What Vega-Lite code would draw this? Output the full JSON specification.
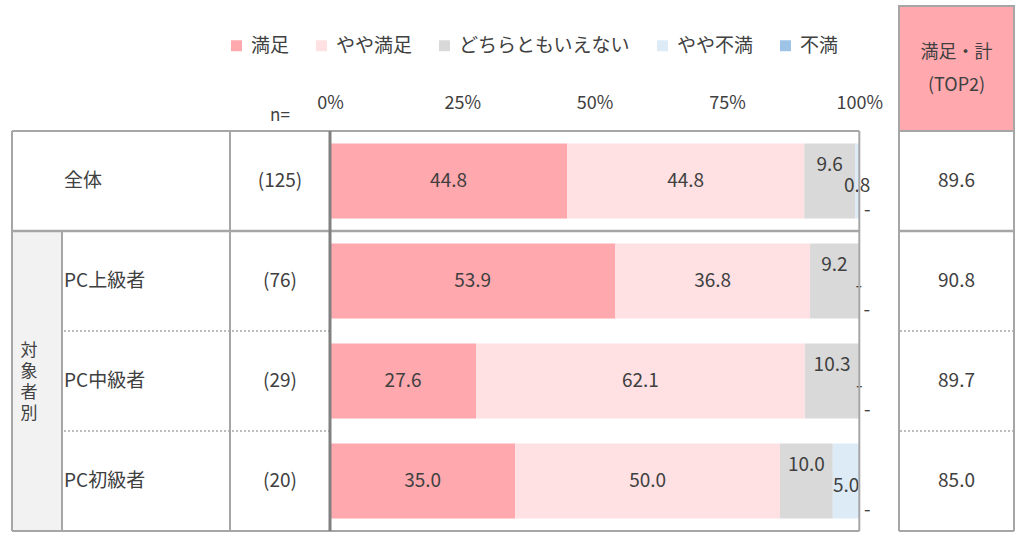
{
  "$schema": "https://vega.github.io/schema/vega-lite/v6.json",
  "padding": {"left": 10, "top": 5, "right": 10, "bottom": 5},
  "background": "white",
  "spacing": 0,
  "bounds": "flush",
  "columns": 5,
  "config": {
    "view": {"stroke": null},
    "font": "Noto Sans CJK JP",
    "text": {"font": "Noto Sans CJK JP", "color": "#404040", "fontSize": 17},
    "rule": {"color": "#A6A6A6", "strokeWidth": 2}
  },
  "datasets": {
    "rows": [
      {"row": "全体", "n": 125, "nLabel": "(125)", "top2": 89.6},
      {"row": "PC上級者", "n": 76, "nLabel": "(76)", "top2": 90.8},
      {"row": "PC中級者", "n": 29, "nLabel": "(29)", "top2": 89.7},
      {"row": "PC初級者", "n": 20, "nLabel": "(20)", "top2": 85.0}
    ],
    "bars": [
      {"row": "全体", "cat": "満足", "k": 1, "value": 44.8},
      {"row": "全体", "cat": "やや満足", "k": 2, "value": 44.8},
      {"row": "全体", "cat": "どちらともいえない", "k": 3, "value": 9.6},
      {"row": "全体", "cat": "やや不満", "k": 4, "value": 0.8},
      {"row": "全体", "cat": "不満", "k": 5, "value": 0},
      {"row": "PC上級者", "cat": "満足", "k": 1, "value": 53.9},
      {"row": "PC上級者", "cat": "やや満足", "k": 2, "value": 36.8},
      {"row": "PC上級者", "cat": "どちらともいえない", "k": 3, "value": 9.2},
      {"row": "PC上級者", "cat": "やや不満", "k": 4, "value": 0},
      {"row": "PC上級者", "cat": "不満", "k": 5, "value": 0},
      {"row": "PC中級者", "cat": "満足", "k": 1, "value": 27.6},
      {"row": "PC中級者", "cat": "やや満足", "k": 2, "value": 62.1},
      {"row": "PC中級者", "cat": "どちらともいえない", "k": 3, "value": 10.3},
      {"row": "PC中級者", "cat": "やや不満", "k": 4, "value": 0},
      {"row": "PC中級者", "cat": "不満", "k": 5, "value": 0},
      {"row": "PC初級者", "cat": "満足", "k": 1, "value": 35.0},
      {"row": "PC初級者", "cat": "やや満足", "k": 2, "value": 50.0},
      {"row": "PC初級者", "cat": "どちらともいえない", "k": 3, "value": 10.0},
      {"row": "PC初級者", "cat": "やや不満", "k": 4, "value": 5.0},
      {"row": "PC初級者", "cat": "不満", "k": 5, "value": 0}
    ]
  },
  "concat": [
    {"width": 50, "height": 125, "data": {"values": [{}]}, "mark": {"type": "text"}, "encoding": {"text": {"value": ""}}},
    {"width": 168, "height": 125, "data": {"values": [{}]}, "mark": {"type": "text"}, "encoding": {"text": {"value": ""}}},
    {"width": 100, "height": 125, "data": {"values": [{}]}, "mark": {"type": "text"}, "encoding": {"text": {"value": ""}}},
    {"width": 569, "height": 125, "data": {"values": [{}]}, "mark": {"type": "text"}, "encoding": {"text": {"value": ""}}},
    {
      "width": 115, "height": 125,
      "data": {"values": [{"h": "満足・計\n(TOP2)"}]},
      "layer": [
        {"mark": {"type": "rect", "fill": "#FFA8AE", "stroke": "#A6A6A6", "strokeWidth": 2}, "encoding": {}},
        {"mark": {"type": "text", "lineBreak": "\n", "fontSize": 18, "lineHeight": 33, "dy": -16, "color": "#404040"}, "encoding": {"text": {"field": "h"}}}
      ]
    },
    {
      "width": 50, "height": 400,
      "layer": [
        {
          "data": {"name": "rows"},
          "transform": [{"filter": "datum.row !== '全体'"}],
          "mark": {"type": "rect", "fill": "#F2F2F2"},
          "encoding": {"y": {"field": "row", "type": "nominal", "sort": null, "scale": {"domain": ["全体", "PC上級者", "PC中級者", "PC初級者"], "paddingInner": 0, "paddingOuter": 0}, "axis": null}}
        },
        {
          "data": {"values": [{"g": "対\n象\n者\n別"}]},
          "mark": {"type": "text", "lineBreak": "\n", "lineHeight": 21, "fontSize": 17, "dx": -8, "dy": -30, "color": "#404040"},
          "encoding": {
            "y": {"datum": "PC中級者", "type": "nominal", "scale": {"domain": ["全体", "PC上級者", "PC中級者", "PC初級者"], "paddingInner": 0, "paddingOuter": 0}, "axis": null},
            "text": {"field": "g"}
          }
        },
        {
          "data": {"values": [{}]},
          "mark": {"type": "rule"},
          "encoding": {"y": {"datum": "全体", "type": "nominal", "bandPosition": 0, "scale": {"domain": ["全体", "PC上級者", "PC中級者", "PC初級者"], "paddingInner": 0, "paddingOuter": 0}, "axis": null}}
        },
        {
          "data": {"values": [{}]},
          "mark": {"type": "rule", "strokeWidth": 2.5},
          "encoding": {"y": {"datum": "PC上級者", "type": "nominal", "bandPosition": 0, "scale": {"domain": ["全体", "PC上級者", "PC中級者", "PC初級者"], "paddingInner": 0, "paddingOuter": 0}, "axis": null}}
        },
        {
          "data": {"values": [{}]},
          "mark": {"type": "rule"},
          "encoding": {"y": {"datum": "PC初級者", "type": "nominal", "bandPosition": 1, "scale": {"domain": ["全体", "PC上級者", "PC中級者", "PC初級者"], "paddingInner": 0, "paddingOuter": 0}, "axis": null}}
        },
        {
          "data": {"values": [{}]},
          "mark": {"type": "rule"},
          "encoding": {"x": {"datum": 0, "type": "quantitative", "scale": {"domain": [0, 1], "nice": false, "zero": false}, "axis": null}}
        },
        {
          "data": {"values": [{}]},
          "mark": {"type": "rule"},
          "encoding": {
            "x": {"datum": 1, "type": "quantitative", "scale": {"domain": [0, 1], "nice": false, "zero": false}, "axis": null},
            "y": {"datum": "PC上級者", "type": "nominal", "bandPosition": 0, "scale": {"domain": ["全体", "PC上級者", "PC中級者", "PC初級者"], "paddingInner": 0, "paddingOuter": 0}, "axis": null},
            "y2": {"datum": "PC初級者", "bandPosition": 1}
          }
        }
      ]
    },
    {
      "width": 168, "height": 400,
      "layer": [
        {
          "data": {"name": "rows"},
          "mark": {"type": "text", "align": "left", "dx": 2, "fontSize": 19, "color": "#404040"},
          "encoding": {
            "y": {"field": "row", "type": "nominal", "sort": null, "scale": {"domain": ["全体", "PC上級者", "PC中級者", "PC初級者"], "paddingInner": 0, "paddingOuter": 0}, "axis": null},
            "x": {"datum": 0, "type": "quantitative", "scale": {"domain": [0, 1], "nice": false, "zero": false}, "axis": null},
            "text": {"field": "row"}
          }
        },
        {
          "data": {"values": [{}]},
          "mark": {"type": "rule"},
          "encoding": {"y": {"datum": "全体", "type": "nominal", "bandPosition": 0, "scale": {"domain": ["全体", "PC上級者", "PC中級者", "PC初級者"], "paddingInner": 0, "paddingOuter": 0}, "axis": null}}
        },
        {
          "data": {"values": [{}]},
          "mark": {"type": "rule", "strokeWidth": 2.5},
          "encoding": {"y": {"datum": "PC上級者", "type": "nominal", "bandPosition": 0, "scale": {"domain": ["全体", "PC上級者", "PC中級者", "PC初級者"], "paddingInner": 0, "paddingOuter": 0}, "axis": null}}
        },
        {
          "data": {"values": [{}]},
          "mark": {"type": "rule", "strokeDash": [2, 2], "strokeWidth": 1.5},
          "encoding": {"y": {"datum": "PC中級者", "type": "nominal", "bandPosition": 0, "scale": {"domain": ["全体", "PC上級者", "PC中級者", "PC初級者"], "paddingInner": 0, "paddingOuter": 0}, "axis": null}}
        },
        {
          "data": {"values": [{}]},
          "mark": {"type": "rule", "strokeDash": [2, 2], "strokeWidth": 1.5},
          "encoding": {"y": {"datum": "PC初級者", "type": "nominal", "bandPosition": 0, "scale": {"domain": ["全体", "PC上級者", "PC中級者", "PC初級者"], "paddingInner": 0, "paddingOuter": 0}, "axis": null}}
        },
        {
          "data": {"values": [{}]},
          "mark": {"type": "rule"},
          "encoding": {"y": {"datum": "PC初級者", "type": "nominal", "bandPosition": 1, "scale": {"domain": ["全体", "PC上級者", "PC中級者", "PC初級者"], "paddingInner": 0, "paddingOuter": 0}, "axis": null}}
        }
      ]
    },
    {
      "width": 100, "height": 400,
      "title": {"text": "n=", "fontSize": 17, "fontWeight": "normal", "color": "#404040", "offset": 5, "anchor": "middle", "font": "Noto Sans CJK JP"},
      "layer": [
        {
          "data": {"name": "rows"},
          "mark": {"type": "text", "fontSize": 19, "color": "#404040"},
          "encoding": {
            "y": {"field": "row", "type": "nominal", "sort": null, "scale": {"domain": ["全体", "PC上級者", "PC中級者", "PC初級者"], "paddingInner": 0, "paddingOuter": 0}, "axis": null},
            "text": {"field": "nLabel"}
          }
        },
        {
          "data": {"values": [{}]},
          "mark": {"type": "rule"},
          "encoding": {"y": {"datum": "全体", "type": "nominal", "bandPosition": 0, "scale": {"domain": ["全体", "PC上級者", "PC中級者", "PC初級者"], "paddingInner": 0, "paddingOuter": 0}, "axis": null}}
        },
        {
          "data": {"values": [{}]},
          "mark": {"type": "rule", "strokeWidth": 2.5},
          "encoding": {"y": {"datum": "PC上級者", "type": "nominal", "bandPosition": 0, "scale": {"domain": ["全体", "PC上級者", "PC中級者", "PC初級者"], "paddingInner": 0, "paddingOuter": 0}, "axis": null}}
        },
        {
          "data": {"values": [{}]},
          "mark": {"type": "rule", "strokeDash": [2, 2], "strokeWidth": 1.5},
          "encoding": {"y": {"datum": "PC中級者", "type": "nominal", "bandPosition": 0, "scale": {"domain": ["全体", "PC上級者", "PC中級者", "PC初級者"], "paddingInner": 0, "paddingOuter": 0}, "axis": null}}
        },
        {
          "data": {"values": [{}]},
          "mark": {"type": "rule", "strokeDash": [2, 2], "strokeWidth": 1.5},
          "encoding": {"y": {"datum": "PC初級者", "type": "nominal", "bandPosition": 0, "scale": {"domain": ["全体", "PC上級者", "PC中級者", "PC初級者"], "paddingInner": 0, "paddingOuter": 0}, "axis": null}}
        },
        {
          "data": {"values": [{}]},
          "mark": {"type": "rule"},
          "encoding": {"y": {"datum": "PC初級者", "type": "nominal", "bandPosition": 1, "scale": {"domain": ["全体", "PC上級者", "PC中級者", "PC初級者"], "paddingInner": 0, "paddingOuter": 0}, "axis": null}}
        },
        {
          "data": {"values": [{}]},
          "mark": {"type": "rule"},
          "encoding": {"x": {"datum": 0, "type": "quantitative", "scale": {"domain": [0, 1], "nice": false, "zero": false}, "axis": null}}
        }
      ]
    },
    {
      "width": 569, "height": 400,
      "layer": [
        {
          "data": {"name": "bars"},
          "mark": {"type": "bar", "height": {"band": 0.75}},
          "encoding": {
            "y": {"field": "row", "type": "nominal", "sort": null, "scale": {"domain": ["全体", "PC上級者", "PC中級者", "PC初級者"], "paddingInner": 0, "paddingOuter": 0}, "axis": null},
            "x": {"field": "value", "type": "quantitative", "stack": "zero", "scale": {"domain": [0, 107.5], "nice": false, "zero": true},
              "axis": {"orient": "top", "values": [0, 25, 50, 75, 100], "labelExpr": "datum.value + '%'", "labelFontSize": 18, "labelColor": "#404040", "labelFont": "Noto Sans CJK JP", "domain": false, "ticks": false, "grid": false, "labelPadding": 19, "labelFlush": false, "title": null}},
            "color": {"field": "cat", "type": "nominal",
              "scale": {"domain": ["満足", "やや満足", "どちらともいえない", "やや不満", "不満"], "range": ["#FFA8AE", "#FFE0E3", "#D9D9D9", "#DDEBF7", "#9DC3E6"]},
              "legend": {"orient": "none", "legendX": 215, "legendY": 30, "direction": "horizontal", "title": null, "symbolType": "square", "symbolSize": 120, "symbolStrokeWidth": 0, "labelFontSize": 19, "labelLimit": 400, "labelColor": "#404040", "labelFont": "Noto Sans CJK JP", "columnPadding": 22, "labelOffset": 5}},
            "order": {"field": "k", "type": "quantitative"}
          }
        },
        {
          "data": {"name": "bars"},
          "mark": {"type": "text", "fontSize": 19, "color": "#404040"},
          "encoding": {
            "y": {"field": "row", "type": "nominal", "sort": null, "scale": {"domain": ["全体", "PC上級者", "PC中級者", "PC初級者"], "paddingInner": 0, "paddingOuter": 0}, "axis": null},
            "x": {"field": "value", "type": "quantitative", "stack": "zero", "bandPosition": 0.5},
            "detail": {"field": "cat"},
            "order": {"field": "k", "type": "quantitative"},
            "text": {"condition": {"test": "datum.k > 2", "value": ""}, "field": "value", "format": ".1f"}
          }
        },
        {
          "data": {"name": "bars"},
          "mark": {"type": "text", "fontSize": 19, "color": "#404040", "dy": -16},
          "encoding": {
            "y": {"field": "row", "type": "nominal", "sort": null, "scale": {"domain": ["全体", "PC上級者", "PC中級者", "PC初級者"], "paddingInner": 0, "paddingOuter": 0}, "axis": null},
            "x": {"field": "value", "type": "quantitative", "stack": "zero", "bandPosition": 0.5},
            "detail": {"field": "cat"},
            "order": {"field": "k", "type": "quantitative"},
            "text": {"condition": {"test": "datum.k !== 3", "value": ""}, "field": "value", "format": ".1f"}
          }
        },
        {
          "data": {"name": "bars"},
          "mark": {"type": "text", "fontSize": 19, "color": "#404040", "dy": 5},
          "encoding": {
            "y": {"field": "row", "type": "nominal", "sort": null, "scale": {"domain": ["全体", "PC上級者", "PC中級者", "PC初級者"], "paddingInner": 0, "paddingOuter": 0}, "axis": null},
            "x": {"field": "value", "type": "quantitative", "stack": "zero", "bandPosition": 0.5},
            "detail": {"field": "cat"},
            "order": {"field": "k", "type": "quantitative"},
            "text": {"condition": [{"test": "datum.k !== 4", "value": ""}, {"test": "datum.value === 0", "value": "-"}], "field": "value", "format": ".1f"}
          }
        },
        {
          "data": {"name": "bars"},
          "mark": {"type": "text", "fontSize": 19, "color": "#404040", "dy": 29, "dx": 8},
          "encoding": {
            "y": {"field": "row", "type": "nominal", "sort": null, "scale": {"domain": ["全体", "PC上級者", "PC中級者", "PC初級者"], "paddingInner": 0, "paddingOuter": 0}, "axis": null},
            "x": {"field": "value", "type": "quantitative", "stack": "zero", "bandPosition": 0.5},
            "detail": {"field": "cat"},
            "order": {"field": "k", "type": "quantitative"},
            "text": {"condition": [{"test": "datum.k !== 5", "value": ""}, {"test": "datum.value === 0", "value": "-"}], "field": "value", "format": ".1f"}
          }
        },
        {
          "data": {"values": [{}]},
          "mark": {"type": "rule"},
          "encoding": {
            "y": {"datum": "全体", "type": "nominal", "bandPosition": 0, "scale": {"domain": ["全体", "PC上級者", "PC中級者", "PC初級者"], "paddingInner": 0, "paddingOuter": 0}, "axis": null},
            "x": {"datum": 0, "type": "quantitative"},
            "x2": {"datum": 100}
          }
        },
        {
          "data": {"values": [{}]},
          "mark": {"type": "rule", "strokeWidth": 2.5},
          "encoding": {
            "y": {"datum": "PC上級者", "type": "nominal", "bandPosition": 0, "scale": {"domain": ["全体", "PC上級者", "PC中級者", "PC初級者"], "paddingInner": 0, "paddingOuter": 0}, "axis": null},
            "x": {"datum": 0, "type": "quantitative"},
            "x2": {"datum": 100}
          }
        },
        {
          "data": {"values": [{}]},
          "mark": {"type": "rule"},
          "encoding": {
            "y": {"datum": "PC初級者", "type": "nominal", "bandPosition": 1, "scale": {"domain": ["全体", "PC上級者", "PC中級者", "PC初級者"], "paddingInner": 0, "paddingOuter": 0}, "axis": null},
            "x": {"datum": 0, "type": "quantitative"},
            "x2": {"datum": 100}
          }
        },
        {
          "data": {"values": [{}]},
          "mark": {"type": "rule"},
          "encoding": {"x": {"datum": 100, "type": "quantitative"}}
        },
        {
          "data": {"values": [{}]},
          "mark": {"type": "rule", "color": "#808080", "strokeWidth": 3},
          "encoding": {"x": {"datum": 0, "type": "quantitative"}}
        }
      ]
    },
    {
      "width": 115, "height": 400,
      "layer": [
        {
          "data": {"name": "rows"},
          "mark": {"type": "text", "fontSize": 19, "color": "#404040"},
          "encoding": {
            "y": {"field": "row", "type": "nominal", "sort": null, "scale": {"domain": ["全体", "PC上級者", "PC中級者", "PC初級者"], "paddingInner": 0, "paddingOuter": 0}, "axis": null},
            "text": {"field": "top2", "format": ".1f"}
          }
        },
        {
          "data": {"values": [{}]},
          "mark": {"type": "rule"},
          "encoding": {"y": {"datum": "全体", "type": "nominal", "bandPosition": 0, "scale": {"domain": ["全体", "PC上級者", "PC中級者", "PC初級者"], "paddingInner": 0, "paddingOuter": 0}, "axis": null}}
        },
        {
          "data": {"values": [{}]},
          "mark": {"type": "rule", "strokeWidth": 2.5},
          "encoding": {"y": {"datum": "PC上級者", "type": "nominal", "bandPosition": 0, "scale": {"domain": ["全体", "PC上級者", "PC中級者", "PC初級者"], "paddingInner": 0, "paddingOuter": 0}, "axis": null}}
        },
        {
          "data": {"values": [{}]},
          "mark": {"type": "rule", "strokeDash": [2, 2], "strokeWidth": 1.5},
          "encoding": {"y": {"datum": "PC中級者", "type": "nominal", "bandPosition": 0, "scale": {"domain": ["全体", "PC上級者", "PC中級者", "PC初級者"], "paddingInner": 0, "paddingOuter": 0}, "axis": null}}
        },
        {
          "data": {"values": [{}]},
          "mark": {"type": "rule", "strokeDash": [2, 2], "strokeWidth": 1.5},
          "encoding": {"y": {"datum": "PC初級者", "type": "nominal", "bandPosition": 0, "scale": {"domain": ["全体", "PC上級者", "PC中級者", "PC初級者"], "paddingInner": 0, "paddingOuter": 0}, "axis": null}}
        },
        {
          "data": {"values": [{}]},
          "mark": {"type": "rule"},
          "encoding": {"y": {"datum": "PC初級者", "type": "nominal", "bandPosition": 1, "scale": {"domain": ["全体", "PC上級者", "PC中級者", "PC初級者"], "paddingInner": 0, "paddingOuter": 0}, "axis": null}}
        },
        {
          "data": {"values": [{}]},
          "mark": {"type": "rule"},
          "encoding": {"x": {"datum": 0, "type": "quantitative", "scale": {"domain": [0, 1], "nice": false, "zero": false}, "axis": null}}
        },
        {
          "data": {"values": [{}]},
          "mark": {"type": "rule"},
          "encoding": {"x": {"datum": 1, "type": "quantitative", "scale": {"domain": [0, 1], "nice": false, "zero": false}, "axis": null}}
        }
      ]
    }
  ]
}
